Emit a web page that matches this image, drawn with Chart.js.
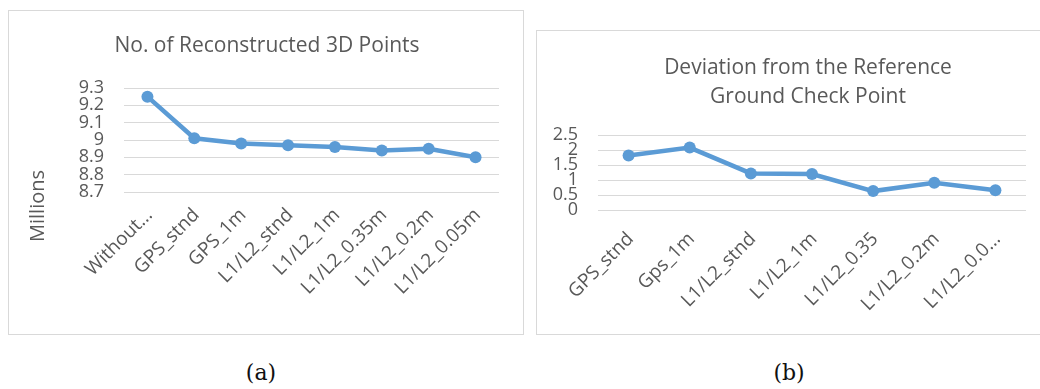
<!DOCTYPE html>
<html>
<head>
<meta charset="utf-8">
<script src="https://cdn.jsdelivr.net/npm/chart.js@4"></script>
<style>
  body { margin: 0; width: 1040px; height: 389px; overflow: hidden; background: #fff; position: relative; }
  .frame { position: absolute; border: 1px solid #d9d9d9; box-sizing: border-box; }
  .frame canvas { position: absolute; left: 0; top: 0; }
  .caption { position: absolute; top: 360px; width: 80px; line-height: 26px; text-align: center; font-family: "DejaVu Serif", serif; font-size: 22px; color: #111; }
</style>
</head>
<body>
<div class="frame" style="left:8px; top:10px; width:516px; height:325px;">
  <canvas id="pointsChart" width="516" height="325"></canvas>
</div>
<div class="frame" style="left:536px; top:30px; width:542px; height:305px;">
  <canvas id="devChart" width="542" height="305"></canvas>
</div>
<div class="caption" style="left:221px;">(a)</div>
<div class="caption" style="left:749px;">(b)</div>

<script>
// reconstructed points, in millions
const pointLabels = ["Without...", "GPS_stnd", "GPS_1m", "L1/L2_stnd", "L1/L2_1m", "L1/L2_0.35m", "L1/L2_0.2m", "L1/L2_0.05m"];
const pointValues = [9.25, 9.01, 8.98, 8.97, 8.96, 8.94, 8.95, 8.90];
const pointTicks = [8.7, 8.8, 8.9, 9.0, 9.1, 9.2, 9.3];

// deviation from the ground check point
const devLabels = ["GPS_stnd", "Gps_1m", "L1/L2_stnd", "L1/L2_1m", "L1/L2_0.35", "L1/L2_0.2m", "L1/L2_0.0..."];
const devValues = [1.82, 2.08, 1.22, 1.20, 0.63, 0.91, 0.66];
const devTicks = [0, 0.5, 1, 1.5, 2, 2.5];

const FONT = "'Open Sans', sans-serif";
const GREY = "#595959";
const BLUE = "#5b9bd5";

// titles centred on the whole frame, plus the rotated "Millions" axis title
const frameText = {
  id: "frameText",
  afterDraw(chart, args, opts) {
    const ctx = chart.ctx;
    ctx.save();
    ctx.fillStyle = GREY;
    ctx.textAlign = "center";
    ctx.textBaseline = "middle";
    ctx.font = `21px ${FONT}`;
    (opts.lines || []).forEach((line, i) => ctx.fillText(line, chart.width / 2, opts.ys[i]));
    if (opts.side) {
      ctx.translate(opts.side.x, opts.side.y);
      ctx.rotate(-Math.PI / 2);
      ctx.font = `20px ${FONT}`;
      ctx.fillText(opts.side.text, 0, 0);
    }
    ctx.restore();
  }
};

function lineChart(id, cfg) {
  return new Chart(document.getElementById(id), {
    type: "line",
    data: {
      labels: cfg.labels,
      datasets: [{
        data: cfg.values,
        borderColor: BLUE,
        backgroundColor: BLUE,
        borderWidth: 4.5,
        pointRadius: 6,
        pointBorderWidth: 0,
        tension: 0
      }]
    },
    options: {
      responsive: false,
      animation: false,
      layout: { autoPadding: false, padding: { left: 0, right: cfg.padRight, top: cfg.padTop, bottom: 0 } },
      plugins: {
        legend: { display: false },
        tooltip: { enabled: false },
        title: { display: false },
        frameText: { lines: cfg.title, ys: cfg.titleY, side: cfg.side }
      },
      scales: {
        x: {
          offset: true,
          grid: { display: false },
          border: { display: false },
          ticks: {
            autoSkip: false,
            minRotation: 45,
            maxRotation: 45,
            padding: cfg.xPad,
            labelOffset: 2,
            color: GREY,
            font: { family: FONT, size: 19 }
          },
          afterFit: (s) => { s.height = cfg.xHeight; }
        },
        y: {
          min: cfg.ticks[0],
          max: cfg.ticks[cfg.ticks.length - 1],
          grid: { color: "#d9d9d9", lineWidth: 1, drawTicks: false },
          border: { display: false },
          ticks: {
            autoSkip: false,
            padding: 20,
            color: GREY,
            font: { family: FONT, size: 18, lineHeight: 1 },
            callback: (v) => String(Number(v.toFixed(1)))
          },
          afterBuildTicks: (s) => { s.ticks = cfg.ticks.map(v => ({ value: v })); },
          afterFit: (s) => { s.width = cfg.yWidth; }
        }
      }
    },
    plugins: [frameText]
  });
}

lineChart("pointsChart", {
  labels: pointLabels,
  values: pointValues,
  ticks: pointTicks,
  title: ["No. of Reconstructed 3D Points"],
  titleY: [35],
  padTop: 77,
  padRight: 26,
  yWidth: 115,
  xHeight: 144,
  xPad: 4,
  side: { text: "Millions", x: 29, y: 195 }
});

lineChart("devChart", {
  labels: devLabels,
  values: devValues,
  ticks: devTicks,
  title: ["Deviation from the Reference", "Ground Check Point"],
  titleY: [37, 66],
  padTop: 104,
  padRight: 53,
  yWidth: 61,
  xHeight: 126,
  xPad: 10
});
</script>
</body>
</html>
